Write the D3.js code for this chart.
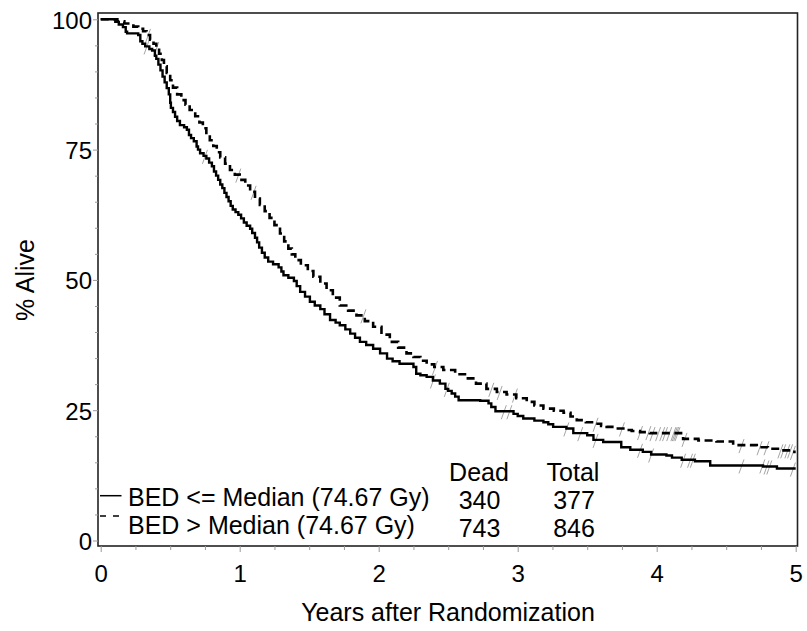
<!DOCTYPE html>
<html>
<head>
<meta charset="utf-8">
<script src="https://cdn.jsdelivr.net/npm/d3@7"></script>
<style>
  html, body { margin: 0; padding: 0; background: #fff; }
  svg text { font-family: "Liberation Sans", Arial, sans-serif; fill: #000; }
</style>
</head>
<body>
<svg id="chart" width="807" height="631"></svg>
<script>
// ---- data ----
const seriesNames = ["BED <= Median (74.67 Gy)", "BED > Median (74.67 Gy)"];
const deadCounts = [340, 743];
const totalCounts = [377, 846];
const xTicks = [0, 1, 2, 3, 4, 5];
const yTicks = [0, 25, 50, 75, 100];
const xTitle = "Years after Randomization";
const yTitle = "% Alive";

// KM step points [years, % alive] : BED <= median (solid)
const solidTimes = [0,0.105,0.13,0.16,0.18,0.19,0.27,0.285,0.30,0.32,0.35,0.37,0.39,0.40,0.415,0.43,0.445,0.46,0.475,0.49,0.50,0.505,0.52,0.535,0.55,0.57,0.60,0.62,0.635,0.65,0.67,0.69,0.70,0.715,0.74,0.76,0.78,0.80,0.815,0.83,0.845,0.86,0.875,0.89,0.905,0.92,0.935,0.95,0.97,0.99,1.01,1.03,1.05,1.075,1.09,1.11,1.125,1.14,1.16,1.18,1.205,1.24,1.28,1.30,1.315,1.35,1.39,1.41,1.435,1.47,1.505,1.54,1.58,1.61,1.65,1.69,1.72,1.76,1.795,1.83,1.865,1.91,1.96,2.01,2.06,2.10,2.15,2.25,2.27,2.30,2.345,2.39,2.44,2.48,2.50,2.525,2.55,2.575,2.73,2.79,2.81,2.84,2.97,3.0,3.04,3.12,3.185,3.22,3.255,3.35,3.40,3.50,3.545,3.615,3.745,3.81,3.90,3.96,4.07,4.11,4.18,4.275,4.385,4.765,4.865,5.0];
const solidSurv  = [100,99.5,99.0,98.5,97.6,97.3,97.0,95.8,95.3,94.8,94.3,94.0,93.0,92.4,91.3,90.2,89.0,87.9,86.8,85.6,84.0,83.0,82.2,81.3,80.5,79.7,79.3,78.8,77.8,77.2,76.6,75.6,75.0,74.3,73.8,73.3,72.5,71.8,70.8,70.0,69.2,68.3,67.6,66.7,65.9,65.1,64.2,63.5,63.0,62.5,61.8,61.0,60.4,59.8,59.0,58.1,57.2,56.2,55.2,54.3,53.5,53.0,52.4,51.6,50.9,50.4,49.8,48.8,47.7,46.8,45.8,45.1,44.4,43.4,42.3,41.8,41.3,40.5,39.7,38.9,38.1,37.5,36.8,35.9,34.9,34.4,33.9,33.3,32.0,31.7,31.4,30.7,30.1,29.1,28.7,28.2,27.6,26.9,26.8,26.3,25.6,24.8,24.3,23.9,23.4,23.0,22.7,22.3,21.8,21.5,20.6,20.2,19.3,18.9,17.9,17.4,17.0,16.5,16.3,15.9,15.5,15.2,14.4,14.2,13.8,13.8];

// KM step points : BED > median (dashed)
const dashTimes = [0,0.12,0.17,0.235,0.27,0.305,0.33,0.355,0.38,0.40,0.42,0.44,0.455,0.475,0.50,0.52,0.55,0.58,0.61,0.64,0.68,0.71,0.735,0.76,0.785,0.81,0.835,0.86,0.895,0.93,0.965,1.0,1.04,1.075,1.11,1.145,1.18,1.215,1.25,1.29,1.32,1.35,1.375,1.40,1.44,1.49,1.53,1.58,1.625,1.67,1.72,1.78,1.84,1.90,1.96,2.02,2.08,2.14,2.20,2.25,2.30,2.345,2.40,2.465,2.55,2.63,2.70,2.775,2.85,2.92,2.99,3.065,3.12,3.185,3.26,3.33,3.38,3.425,3.49,3.545,3.60,3.64,3.70,3.76,3.82,3.88,3.95,4.19,4.30,4.43,4.55,4.72,4.80,4.89,4.97,5.0];
const dashSurv  = [100,99.6,99.2,98.6,98.2,97.7,97.0,96.1,95.3,94.5,93.4,92.2,91.0,89.7,88.3,86.9,85.6,84.5,83.6,82.6,81.4,80.2,79.1,77.9,76.8,75.7,74.5,73.5,72.3,71.1,70.2,69.2,68.1,66.9,65.6,64.4,63.2,61.9,60.5,58.9,57.4,56.0,54.9,53.8,52.8,51.7,50.6,49.3,48.0,46.6,45.1,44.1,43.2,42.1,41.0,39.5,38.1,37.0,35.9,35.2,34.5,33.8,33.3,32.7,31.9,31.1,30.1,29.1,28.5,28.0,27.3,26.6,25.9,25.3,24.9,24.5,23.8,23.1,22.7,22.4,22.0,21.8,21.5,21.2,21.0,20.8,20.6,19.5,19.2,19.0,18.3,17.9,17.6,17.3,17.0,17.0];

// censoring times
const solidCensor = [0.33,0.75,2.39,2.49,2.90,2.94,3.35,3.45,3.56,3.88,3.96,4.19,4.24,4.26,4.61,4.76,4.79,4.81,4.98];
const dashCensor = [0.34,0.40,0.99,1.10,1.89,2.405,2.81,2.87,2.98,3.56,3.75,3.88,3.94,3.97,4.01,4.04,4.06,4.09,4.12,4.13,4.14,4.15,4.20,4.61,4.74,4.79,4.89,4.91,4.94,4.96,4.98];

// ---- layout ----
const svg = d3.select("#chart");
const frame = {left: 98, right: 797.5, top: 13, bottom: 546};
const x = d3.scaleLinear().domain([0, 5]).range([100.7, 795.7]);
const y = d3.scaleLinear().domain([0, 100]).range([540.5, 19.3]);
const font = '"Liberation Sans", Arial, sans-serif';

// frame
svg.append("rect")
  .attr("x", frame.left).attr("y", frame.top)
  .attr("width", frame.right - frame.left).attr("height", frame.bottom - frame.top)
  .attr("fill", "none").attr("stroke", "#222").attr("stroke-width", 1.6);

// x axis minor + major ticks
const xMinor = d3.range(0, 5.001, 0.25).filter(v => Math.abs(v - Math.round(v)) > 1e-6);
const gxMinor = svg.append("g").attr("transform", `translate(0,${frame.bottom})`)
  .call(d3.axisBottom(x).tickValues(xMinor).tickSize(4).tickFormat(""));
const gx = svg.append("g").attr("transform", `translate(0,${frame.bottom})`)
  .call(d3.axisBottom(x).tickValues(xTicks).tickSize(6).tickFormat(d3.format("d")));
[gxMinor, gx].forEach(g => {
  g.select(".domain").remove();
  g.selectAll("line").attr("stroke", "#999").attr("stroke-width", 1);
});
gx.selectAll("text").attr("y", 36).attr("dy", 0)
  .style("font-family", font).style("font-size", "24px").attr("fill", "#000");

// y axis minor + major ticks
const yMinor = d3.range(0, 101, 5).filter(v => v % 25 !== 0);
const gyMinor = svg.append("g").attr("transform", `translate(${frame.left},0)`)
  .call(d3.axisLeft(y).tickValues(yMinor).tickSize(3).tickFormat(""));
const gy = svg.append("g").attr("transform", `translate(${frame.left},0)`)
  .call(d3.axisLeft(y).tickValues(yTicks).tickSize(5).tickFormat(d3.format("d")));
[gyMinor, gy].forEach(g => {
  g.select(".domain").remove();
  g.selectAll("line").attr("stroke", "#999").attr("stroke-width", 1);
});
gy.selectAll("text").attr("x", -6).attr("dy", 9)
  .style("font-family", font).style("font-size", "24px").attr("fill", "#000");

// titles
svg.append("text").attr("x", 448).attr("y", 621).attr("text-anchor", "middle")
  .style("font-size", "25px").text(xTitle);
svg.append("text").attr("transform", "translate(34,280) rotate(-90)")
  .attr("text-anchor", "middle").style("font-size", "25px").text(yTitle);

// curves
const line = d3.line().x(d => x(d[0])).y(d => y(d[1])).curve(d3.curveStepAfter);
const solidData = solidTimes.map((t, i) => [t, solidSurv[i]]);
const dashData = dashTimes.map((t, i) => [t, dashSurv[i]]);

function survAt(times, surv, t) {
  const i = d3.bisectRight(times, t) - 1;
  return surv[Math.max(0, i)];
}

// censor marks
function drawCensor(times, surv, cens) {
  svg.append("g").selectAll("line").data(cens).join("line")
    .attr("x1", t => x(t) - 2.5).attr("y1", t => y(survAt(times, surv, t)) + 8)
    .attr("x2", t => x(t) + 2.5).attr("y2", t => y(survAt(times, surv, t)) - 6)
    .attr("stroke", "#9a9a9a").attr("stroke-width", 0.9);
}
drawCensor(solidTimes, solidSurv, solidCensor);
drawCensor(dashTimes, dashSurv, dashCensor);

svg.append("path").datum(solidData).attr("d", line)
  .attr("fill", "none").attr("stroke", "#000").attr("stroke-width", 2.4);
svg.append("path").datum(dashData).attr("d", line)
  .attr("fill", "none").attr("stroke", "#000").attr("stroke-width", 2.6)
  .attr("stroke-dasharray", "8,4.5");

// legend
const legRows = [{base: 505.7, lineY: 495.7, dash: null, numBase: 509},
                 {base: 534.3, lineY: 516, dash: "6,7", numBase: 537.3}];
legRows.forEach((r, i) => {
  svg.append("line").attr("x1", 100).attr("x2", 121.5).attr("y1", r.lineY).attr("y2", r.lineY)
    .attr("stroke", "#000").attr("stroke-width", 1.5)
    .attr("stroke-dasharray", r.dash);
  svg.append("text").attr("x", 128).attr("y", r.base).style("font-size", "25px").text(seriesNames[i]);
  svg.append("text").attr("x", 479.5).attr("y", r.numBase).attr("text-anchor", "middle")
    .style("font-size", "25px").text(deadCounts[i]);
  svg.append("text").attr("x", 574).attr("y", r.numBase).attr("text-anchor", "middle")
    .style("font-size", "25px").text(totalCounts[i]);
});
svg.append("text").attr("x", 479).attr("y", 480.7).attr("text-anchor", "middle")
  .style("font-size", "25px").text("Dead");
svg.append("text").attr("x", 573).attr("y", 480.7).attr("text-anchor", "middle")
  .style("font-size", "25px").text("Total");
</script>
</body>
</html>
